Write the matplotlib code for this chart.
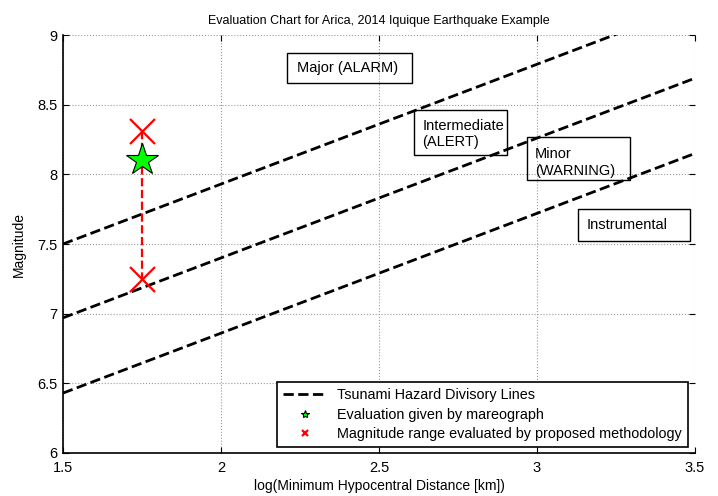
import numpy as np
import matplotlib
matplotlib.use("Agg")
import matplotlib.pyplot as plt
from matplotlib.patches import Rectangle

plt.rcParams['font.family'] = ['Liberation Sans', 'DejaVu Sans']
plt.rcParams['font.size'] = 10

# divisory lines, given by their end values at x = 1.5 and x = 3.5
line_x = [1.5, 3.5]
line_upper = [7.5, 9.22]
line_middle = [6.97, 8.69]
line_lower = [6.43, 8.15]

# Arica evaluation
dist_log = 1.75
mag_mareograph = 8.10
mag_range = [8.31, 7.25]

zones = ['Major (ALARM)', 'Intermediate\n(ALERT)', 'Minor\n(WARNING)', 'Instrumental']

fig = plt.figure(figsize=(7.18, 4.96), dpi=100)
ax = fig.add_axes([0.0877, 0.0867, 0.8802, 0.8427])

h1, = ax.plot(line_x, line_upper, 'k--', lw=2, label='Tsunami Hazard Divisory Lines')
ax.plot(line_x, line_middle, 'k--', lw=2)
ax.plot(line_x, line_lower, 'k--', lw=2)

ax.plot([dist_log, dist_log], mag_range, 'r--', lw=1.6)
h2, = ax.plot(dist_log, mag_mareograph, '*', color='#00ff00', mec='k', mew=0.8,
              ms=24, ls='none', label='Evaluation given by mareograph')
h3, = ax.plot([dist_log, dist_log], mag_range, 'rx', ms=18, mew=1.6, ls='none',
              label='Magnitude range evaluated by proposed methodology')

# zone text boxes (x0, y0, x1, y1, text x, text y)
boxes = [
    (2.209, 8.655, 2.604, 8.871, 2.241, 8.763),
    (2.611, 8.139, 2.905, 8.462, 2.638, 8.289),
    (2.968, 7.959, 3.294, 8.268, 2.994, 8.085),
    (3.130, 7.521, 3.484, 7.751, 3.158, 7.636),
]
for (x0, y0, x1, y1, tx, ty), name in zip(boxes, zones):
    ax.add_patch(Rectangle((x0, y0), x1 - x0, y1 - y0, fill=False, ec='k', lw=1))
    ax.text(tx, ty, name, ha='left', va='center', fontsize=10.5, linespacing=1.25)

ax.set_xlim(1.5, 3.5)
ax.set_ylim(6, 9)
ax.set_xticks(np.arange(1.5, 3.51, 0.5))
ax.set_yticks(np.arange(6, 9.01, 0.5))
ax.set_xticklabels(['1.5', '2', '2.5', '3', '3.5'])
ax.set_yticklabels(['6', '6.5', '7', '7.5', '8', '8.5', '9'])
ax.grid(True, ls=':', color='#999999', lw=0.8)
ax.set_axisbelow(True)
ax.tick_params(direction='in', length=4, top=True, right=True, labelsize=10.5)
ax.tick_params(axis='x', pad=6)
ax.tick_params(axis='y', pad=4)
ax.spines['top'].set_visible(False)
ax.spines['right'].set_visible(False)
for s in ['left', 'bottom']:
    ax.spines[s].set_linewidth(1.2)

ax.set_title('Evaluation Chart for Arica, 2014 Iquique Earthquake Example', fontsize=9, pad=8)
ax.set_xlabel('log(Minimum Hypocentral Distance [km])', fontsize=10, labelpad=3)
ax.set_ylabel('Magnitude', fontsize=10, labelpad=8)

leg = ax.legend(handles=[h1, h2, h3], loc='lower right', bbox_to_anchor=(0.989, 0.014),
                borderaxespad=0, fancybox=False, edgecolor='k', framealpha=1,
                markerscale=0.25, handlelength=3.1, handletextpad=0.7,
                labelspacing=0.4, borderpad=0.4, fontsize=10.4)
leg.get_frame().set_linewidth(1.2)

fig.savefig('out.png', dpi=100)
